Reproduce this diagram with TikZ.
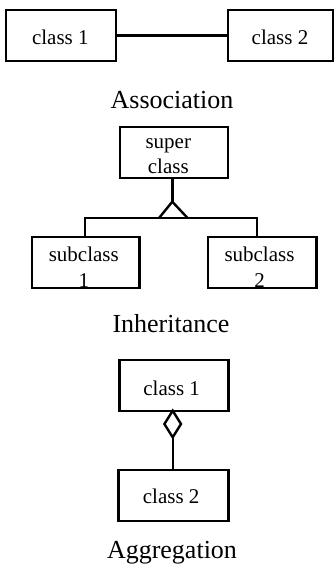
\documentclass[tikz,border=0pt]{standalone}
\usepackage{fontspec}
\setmainfont{Liberation Serif}
\begin{document}
\begin{tikzpicture}[x=1pt,y=-1pt,
  box/.style={draw,line width=2.4pt,minimum width=#1,minimum height=51pt,inner sep=0pt},
  box/.default=108pt,
  lbl/.style={font=\fontsize{21}{25}\selectfont,inner sep=0pt,anchor=base,align=center},
  lblwide/.style={lbl,font=\fontsize{21}{26}\selectfont},
  captext/.style={font=\fontsize{26}{30}\selectfont,inner sep=0pt,anchor=base},
  conn/.style={line width=2.4pt,line join=miter}]
\useasboundingbox (0,0) rectangle (336,571);
% Association
\node[lbl] (as1t) at (60.3,44) {class 1};
\node[lbl] (as2t) at (280,44) {class 2};
\node[box=110pt] (as1) at (61,35.5) {};
\node[box=105pt] (as2) at (280.5,35.5) {};
\draw[conn] (as1.east) -- (as2.west);
\node[captext] (capa) at (172,108) {Association};
% Inheritance
\node[lbl] (supt) at (168.3,173.3) {super\\class};
\node[lblwide] (sub1t) at (83.8,287) {subclass\\1};
\node[lblwide] (sub2t) at (259.5,287) {subclass\\2};
\node[box=108pt] (sup) at (174,152.3) {};
\node[box=107.6pt] (sub1) at (85.5,262.2) {};
\node[box=108.7pt] (sub2) at (262.3,262.2) {};
\coordinate (apex) at (172.3,201.7);
\coordinate (tl) at (159.3,217.7);
\coordinate (tr) at (187.3,217.7);
\coordinate (j1) at (85,217.7);
\coordinate (j2) at (256.7,217.7);
\draw[conn] (apex |- sup.south) -- (apex);
\draw[conn] (tl) -- (apex) -- (tr);
\draw[conn] (j1 |- sub1.north) -- (j1) -- (j2) -- (j2 |- sub2.north);
\node[captext] (capi) at (171,332) {Inheritance};
% Aggregation
\node[lbl] (ag1t) at (171.7,395) {class 1};
\node[lbl] (ag2t) at (171.2,503.3) {class 2};
\node[box=109pt] (ag1) at (173.8,385.3) {};
\node[box=110pt] (ag2) at (173.3,495.3) {};
\coordinate (dt) at (172.7,410.7);
\coordinate (dr) at (181,424);
\coordinate (db) at (172.7,437.3);
\coordinate (dl) at (164.4,424);
\draw[conn] (dt) -- (dr) -- (db) -- (dl) -- cycle;
\draw[conn] (db) -- (db |- ag2.north);
\node[captext] (capg) at (172,558) {Aggregation};
\end{tikzpicture}
\end{document}
